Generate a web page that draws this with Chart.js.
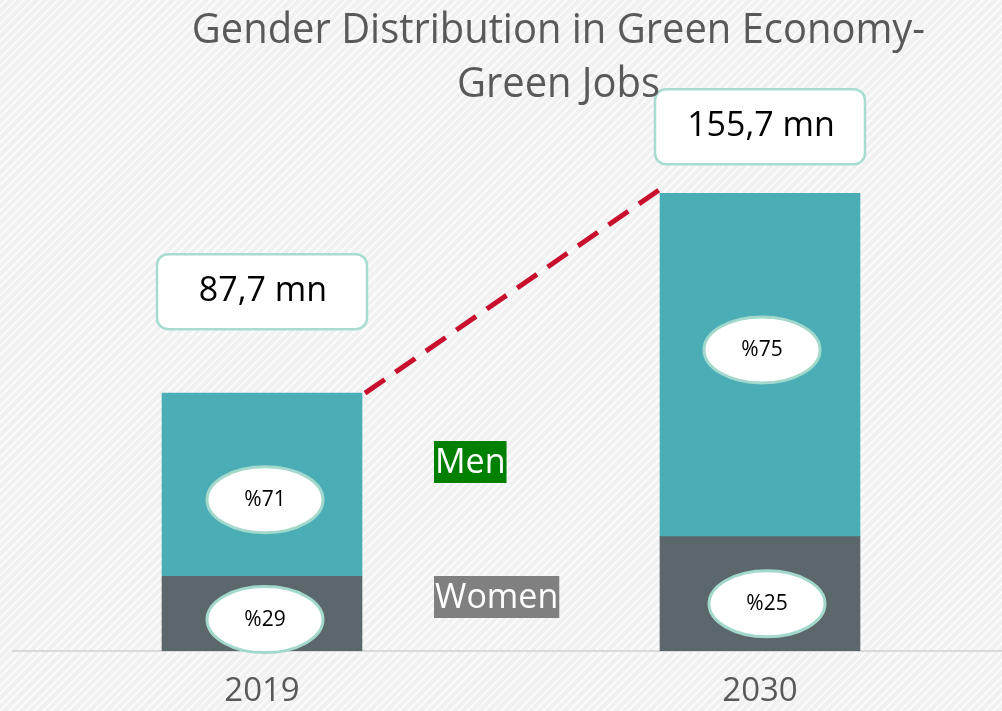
<!DOCTYPE html>
<html lang="en">
<head>
<meta charset="UTF-8">
<title>Gender Distribution in Green Economy-Green Jobs</title>
<script src="https://cdn.jsdelivr.net/npm/chart.js"></script>
<style>
  body { margin: 0; width: 1002px; height: 711px; overflow: hidden; font-family: 'Open Sans', sans-serif;
    background-color: #f1f1f1;
    background-image: repeating-linear-gradient(135deg, #f1f1f1 0px, #f1f1f1 4px, #fbfbfb 4px, #fbfbfb 6px); }
  .title { position: absolute; left: 0; top: 0; width: 1117px; text-align: center; font-size: 42px; line-height: 54px; color: #595959; z-index: 1;
    transform: scaleX(0.95); transform-origin: 558px 0; }
  .chart-box { position: absolute; left: 0; top: 0; width: 1010px; height: 711px; }
</style>
</head>
<body>
<div class="title">Gender Distribution in Green Economy-<br>Green Jobs</div>
<div class="chart-box"><canvas id="chart"></canvas></div>

<script>
const years = ["2019", "2030"];
const totals = [87.7, 155.7];          // million green jobs
const menShare = [71, 75];             // %
const womenShare = [29, 25];           // %
const totalLabels = ["87,7 mn", "155,7 mn"];

const menValues = totals.map((t, i) => t * menShare[i] / 100);
const womenValues = totals.map((t, i) => t * womenShare[i] / 100);

// overlay: dashed growth line, total boxes, share ellipses, side labels
const overlayPlugin = {
  id: 'overlay',
  afterDatasetsDraw(chart) {
    const ctx = chart.ctx;
    const women = chart.getDatasetMeta(0).data;
    const men = chart.getDatasetMeta(1).data;

    // dashed red line from 2019 top to 2030 top
    const a = men[0], b = men[1];
    ctx.save();
    ctx.strokeStyle = '#C8102E';
    ctx.lineWidth = 5;
    ctx.setLineDash([24, 13]);
    ctx.beginPath();
    ctx.moveTo(a.x + a.width / 2 + 3, a.y);
    ctx.lineTo(b.x - b.width / 2 + 3, b.y - 6);
    ctx.stroke();
    ctx.restore();

    // total boxes above the bars
    const boxLift = [102, 67];
    men.forEach((bar, i) => {
      const cx = bar.x, cy = bar.y - boxLift[i];
      ctx.save();
      ctx.fillStyle = '#ffffff';
      ctx.strokeStyle = '#A8DCD0';
      ctx.lineWidth = 2.5;
      ctx.beginPath();
      ctx.roundRect(cx - 105, cy - 37, 210, 75, 11);
      ctx.fill();
      ctx.stroke();
      ctx.fillStyle = '#000000';
      ctx.font = '34px "Open Sans"';
      ctx.textAlign = 'center';
      ctx.textBaseline = 'middle';
      ctx.fillText(totalLabels[i], cx + 1, cy);
      ctx.restore();
    });

    // share ellipses
    function ellipse(x, y, text) {
      ctx.save();
      ctx.fillStyle = '#ffffff';
      ctx.strokeStyle = '#A3D9CC';
      ctx.lineWidth = 3;
      ctx.beginPath();
      ctx.ellipse(x, y, 58, 33, 0, 0, Math.PI * 2);
      ctx.fill();
      ctx.stroke();
      ctx.fillStyle = '#000000';
      ctx.font = '21px "Open Sans"';
      ctx.textAlign = 'center';
      ctx.textBaseline = 'middle';
      ctx.fillText(text, x, y);
      ctx.restore();
    }
    const menShift = [[3, 15], [2, -15]];
    const womenShift = [[3, 6], [7, 10]];
    men.forEach((bar, i) => {
      ellipse(bar.x + menShift[i][0], (bar.y + bar.base) / 2 + menShift[i][1], '%' + menShare[i]);
    });
    women.forEach((bar, i) => {
      ellipse(bar.x + womenShift[i][0], (bar.y + bar.base) / 2 + womenShift[i][1], '%' + womenShare[i]);
    });

    // series labels
    function tag(text, bg, x, y) {
      ctx.save();
      ctx.font = '34px "Open Sans"';
      const w = ctx.measureText(text).width;
      ctx.fillStyle = bg;
      ctx.fillRect(x, y - 21, w + 2, 42);
      ctx.fillStyle = '#ffffff';
      ctx.textBaseline = 'middle';
      ctx.fillText(text, x + 1, y + 1);
      ctx.restore();
    }
    tag('Men', '#008000', 434, 462);
    tag('Women', '#808080', 434, 597);
  }
};

new Chart(document.getElementById('chart'), {
  type: 'bar',
  data: {
    labels: years,
    datasets: [
      { label: 'Women', data: womenValues, backgroundColor: '#5B676B', barThickness: 200 },
      { label: 'Men', data: menValues, backgroundColor: '#4BADB5', barThickness: 200 }
    ]
  },
  options: {
    responsive: true,
    maintainAspectRatio: false,
    animation: false,
    layout: { padding: { top: 63, left: 13, right: 1, bottom: 0 } },
    plugins: { legend: { display: false }, tooltip: { enabled: false }, title: { display: false } },
    scales: {
      x: {
        stacked: true,
        grid: { display: false },
        border: { color: '#d9d9d9', width: 2 },
        ticks: { color: '#595959', font: { family: 'Open Sans', size: 33 }, padding: 13 },
        afterFit(scale) { scale.height = 60; }
      },
      y: { stacked: true, display: false, min: 0, max: 200 }
    }
  },
  plugins: [overlayPlugin]
});
</script>
</body>
</html>
